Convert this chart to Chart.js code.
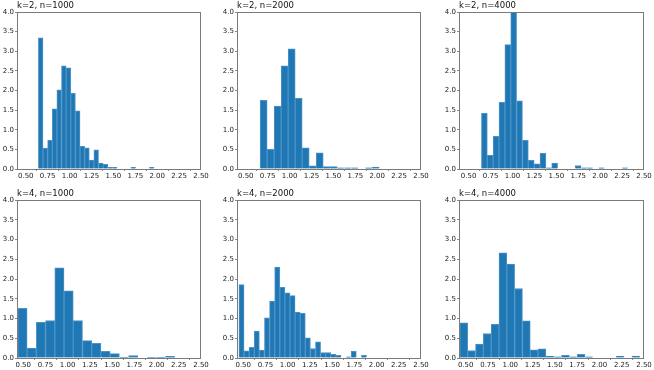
<!DOCTYPE html>
<html>
<head>
<meta charset="utf-8">
<script src="https://cdn.jsdelivr.net/npm/chart.js@4/dist/chart.umd.min.js"></script>
<style>
  body { margin: 0; background: #fff; }
  #wrap { position: relative; width: 654px; height: 370px; overflow: hidden; }
  #wrap canvas { position: absolute; }
</style>
</head>
<body>
<div id="wrap"></div>
<script>
// panel titles, ticks
var titles = ['k=2, n=1000', 'k=2, n=2000', 'k=2, n=4000',
              'k=4, n=1000', 'k=4, n=2000', 'k=4, n=4000'];
var xTicks = [0.5, 0.75, 1.0, 1.25, 1.5, 1.75, 2.0, 2.25, 2.5];
var yTicks = [0, 0.5, 1.0, 1.5, 2.0, 2.5, 3.0, 3.5, 4.0];
var xMin = [0.40, 0.40, 0.39, 0.43, 0.43, 0.425];
var xMax = 2.5;

// histogram bins (left edge of first bin, bin width) and densities
var binStart = [0.644, 0.664, 0.646, 0.44, 0.452, 0.435];
var binWidth = [0.0528, 0.080, 0.0668, 0.1038, 0.0574, 0.0877];

var k2n1000 = [3.34, 0.53, 0.73, 1.53, 2.02, 2.63, 2.58, 1.93, 1.48, 0.58, 0.54, 0.23, 0.49,
               0.15, 0.12, 0.04, 0.04, 0, 0, 0, 0.04, 0, 0, 0, 0.04];
var k2n2000 = [1.75, 0.50, 1.60, 2.63, 3.06, 1.80, 0.54, 0.08, 0.41, 0.06, 0.06, 0.03, 0.03,
               0.03, 0, 0.03, 0.05];
var k2n4000 = [1.42, 0.35, 0.83, 1.70, 3.17, 4.0, 1.74, 0.73, 0.22, 0.13, 0.40, 0.03, 0.15,
               0, 0, 0, 0.09, 0.03, 0.03, 0, 0.03, 0, 0, 0, 0.03];
var k4n1000 = [1.26, 0.25, 0.90, 0.95, 2.28, 1.70, 0.95, 0.44, 0.37, 0.17, 0.11, 0.02, 0.06,
               0, 0.02, 0.02, 0.04];
var k4n2000 = [1.86, 0.18, 0.27, 0.68, 0.20, 1.02, 1.44, 2.30, 1.79, 1.65, 1.58, 1.16, 1.13,
               0.51, 0.24, 0.41, 0.14, 0.14, 0.09, 0.07, 0, 0.03, 0.17, 0, 0.07];
var k4n4000 = [0.89, 0.19, 0.35, 0.62, 0.85, 2.66, 2.38, 1.76, 0.94, 0.21, 0.23, 0.05, 0.03,
               0.07, 0.03, 0.09, 0.03, 0, 0, 0, 0.05, 0, 0.05];
var series = [k2n1000, k2n2000, k2n4000, k4n1000, k4n2000, k4n4000];

// layout of the axes boxes
var colLeft = [17, 237, 459];
var colWidth = [184, 184, 185];
var rowTop = [12, 200];
var rowHeight = [157, 158];
var yAxisW = 17, xAxisH = 12, titleH = 12, padRight = 10;

var framePlugin = {
  id: 'frame',
  afterDatasetsDraw: function (chart) {
    var a = chart.chartArea, c = chart.ctx;
    c.save();
    c.strokeStyle = '#7a7a7a';
    c.lineWidth = 1;
    c.strokeRect(a.left + 0.5, a.top + 0.5, a.right - a.left - 1, a.bottom - a.top);
    c.restore();
  }
};

function makePanel(i) {
  var col = i % 3, row = Math.floor(i / 3);
  var cv = document.createElement('canvas');
  cv.width = yAxisW + colWidth[col] + padRight;
  cv.height = titleH + rowHeight[row] + xAxisH;
  cv.style.left = (colLeft[col] - yAxisW) + 'px';
  cv.style.top = (rowTop[row] - titleH) + 'px';
  document.getElementById('wrap').appendChild(cv);

  var pts = series[i].map(function (v, j) {
    return { x: binStart[i] + (j + 0.5) * binWidth[i], y: v };
  });

  new Chart(cv.getContext('2d'), {
    type: 'bar',
    data: {
      datasets: [{
        data: pts,
        backgroundColor: '#1f77b4',
        borderColor: '#4d93c8',
        borderWidth: 1,
        barPercentage: 1,
        categoryPercentage: 1
      }]
    },
    options: {
      responsive: false,
      animation: false,
      layout: { padding: { top: 0, left: 0, right: padRight, bottom: 0 } },
      plugins: {
        legend: { display: false },
        tooltip: { enabled: false },
        title: {
          display: true,
          text: titles[i],
          align: 'start',
          fullSize: false,
          color: '#111',
          font: { family: 'DejaVu Sans', size: 8.5, weight: 'normal', lineHeight: 1 },
          padding: { top: 2, bottom: 1.5 }
        }
      },
      scales: {
        x: {
          type: 'linear',
          offset: false,
          min: xMin[i],
          max: xMax,
          afterBuildTicks: function (axis) {
            axis.ticks = xTicks.map(function (v) { return { value: v }; });
          },
          afterFit: function (s) { s.height = xAxisH; },
          grid: { display: true, drawOnChartArea: false, tickLength: 2, color: '#888' },
          border: { display: false },
          ticks: {
            maxRotation: 0,
            autoSkip: false,
            padding: 1,
            color: '#222',
            font: { family: 'DejaVu Sans', size: 7 },
            callback: function (v) { return Number(v).toFixed(2); }
          }
        },
        y: {
          min: 0,
          max: 4,
          afterBuildTicks: function (axis) {
            axis.ticks = yTicks.map(function (v) { return { value: v }; });
          },
          afterFit: function (s) { s.width = yAxisW; },
          grid: { display: true, drawOnChartArea: false, tickLength: 2, color: '#888' },
          border: { display: false },
          ticks: {
            padding: 1,
            color: '#222',
            font: { family: 'DejaVu Sans', size: 7 },
            callback: function (v) { return Number(v).toFixed(1); }
          }
        }
      }
    },
    plugins: [framePlugin]
  });
}

for (var i = 0; i < 6; i++) makePanel(i);
</script>
</body>
</html>
